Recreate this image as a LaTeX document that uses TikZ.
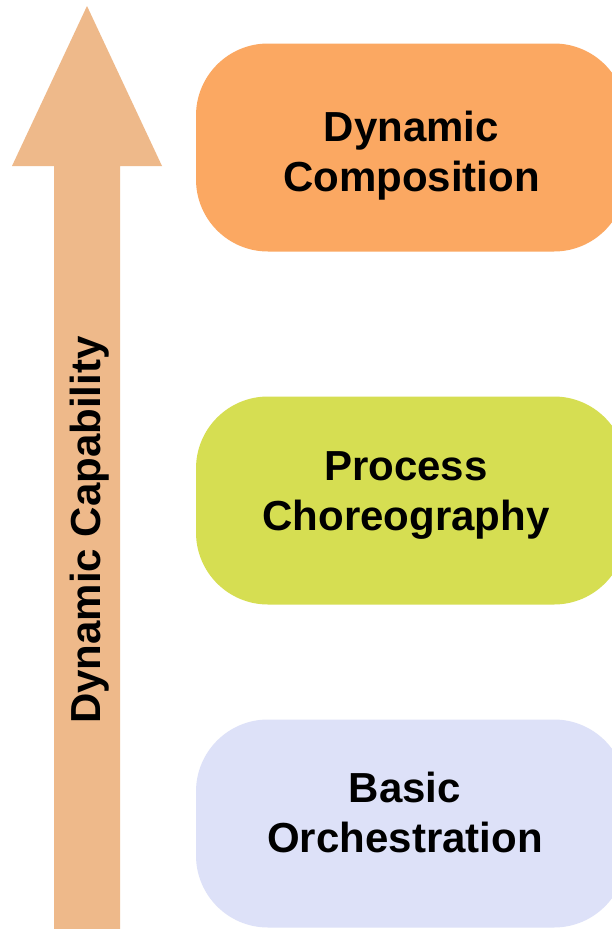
\documentclass[tikz,border=0pt]{standalone}
\usepackage{fontspec}
\setmainfont{Liberation Sans}
\usepackage{xcolor}
\usepackage{tikz}
\usetikzlibrary{calc}
\definecolor{bg}{HTML}{FFFFFF}
\definecolor{text}{HTML}{000000}
\definecolor{arrowfill}{HTML}{EEB98A}
\definecolor{compfill}{HTML}{FBA862}
\definecolor{chorfill}{HTML}{D6DE52}
\definecolor{orchfill}{HTML}{DDE1F8}
\tikzset{
  levelbox/.style={rectangle, rounded corners=72pt, minimum width=430pt,
    minimum height=208pt},
  levellab/.style={inner sep=0pt, align=center, text=text,
    font=\bfseries\fontsize{42}{50}\selectfont},
  axislab/.style={text=text, rotate=90, font=\bfseries\fontsize{42}{50}\selectfont},
}

\begin{document}
\begin{tikzpicture}[x=1pt,y=-1pt]
  \clip (0,0) rectangle (612,929);
  \fill[bg] (0,0) rectangle (612,929);

  % capability arrow
  \fill[arrowfill] (87,6) -- (162,166) -- (120,166) -- (120,935)
    -- (54,935) -- (54,166) -- (12,166) -- cycle;
  \node[axislab] (cap) at (90,530) {Dynamic Capability};

  % levels
  \node[levelbox, fill=compfill] (comp) at (411,147.5) {};
  \node[levelbox, fill=chorfill] (chor) at (411,500.5) {};
  \node[levelbox, fill=orchfill] (orch) at (411,823.5) {};
  \node[levellab] (complab) at (411.5,156) {Dynamic\\Composition};
  \node[levellab] (chorlab) at (406,495) {Process\\Choreography};
  \node[levellab] (orchlab) at (405,812.5) {Basic\\Orchestration};
\end{tikzpicture}
\end{document}
